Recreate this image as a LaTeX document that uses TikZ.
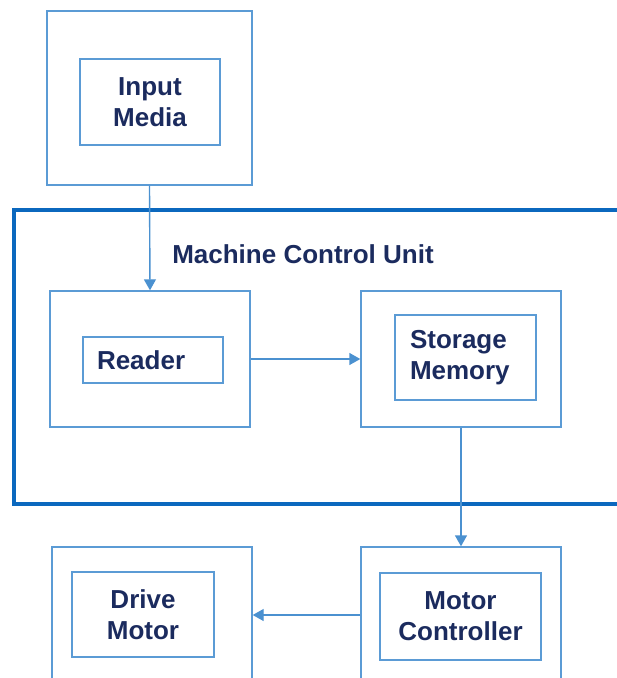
\documentclass[tikz,border=0pt]{standalone}
\usepackage{fontspec}
\setmainfont{Liberation Sans}
\usetikzlibrary{positioning, arrows.meta}
\definecolor{cLine}{HTML}{5B9BD5}
\definecolor{cFrame}{HTML}{0B68BE}
\definecolor{cText}{HTML}{1B2B5E}

\tikzset{
  outbox/.style={draw=cLine, line width=1.4pt, minimum width=200pt, minimum height=136pt},
  inbox/.style={draw=cLine, line width=1.4pt, font=\fontsize{26}{31}\selectfont\bfseries,
    text=cText, align=center, inner sep=0pt},
  conn/.style={draw=cLine!80!cFrame, line width=1.4pt, -{Triangle[length=11pt,width=12pt]}}
}

\begin{document}
\begin{tikzpicture}[x=1pt, y=-1pt]
  \useasboundingbox (0,0) rectangle (617,678);
  % machine control unit frame
  \node[draw=cFrame, line width=4pt, minimum width=611pt, minimum height=294pt] (mcu) at (319.5,357) {};
  \node[font=\fontsize{26}{31}\selectfont\bfseries, text=cText, inner sep=0pt] (mculabel) at (303,254) {Machine Control Unit};
  % outer boxes
  \node[outbox, minimum width=205pt, minimum height=174pt] (inputbox) at (149.5,98) {};
  \node[outbox] (readerbox) at (150,359) {};
  \node[outbox] (storagebox) at (461,359) {};
  \node[outbox] (controllerbox) at (461,615) {};
  \node[outbox] (drivebox) at (152,615) {};
  % inner boxes
  \node[inbox, minimum width=140pt, minimum height=86pt] (input) at (150,102) {Input\\Media};
  \node[inbox, align=left, text width=112pt, inner xsep=14pt, minimum height=46pt] (reader) at (153,360) {Reader};
  \node[inbox, align=left, text width=111pt, inner xsep=15pt, minimum height=85pt] (storage) at (465.5,357.5) {Storage\\Memory};
  \node[inbox, minimum width=161pt, minimum height=87pt] (controller) at (460.5,616.5) {Motor\\Controller};
  \node[inbox, minimum width=142pt, minimum height=85pt] (drive) at (143,614.5) {Drive\\Motor};
  % connectors
  \draw[conn] (inputbox.south) -- (readerbox.north);
  \draw[conn] (readerbox.east) -- (storagebox.west);
  \draw[conn] (storagebox.south) -- (controllerbox.north);
  \draw[conn] (controllerbox.west) -- (drivebox.east);
\end{tikzpicture}
\end{document}
